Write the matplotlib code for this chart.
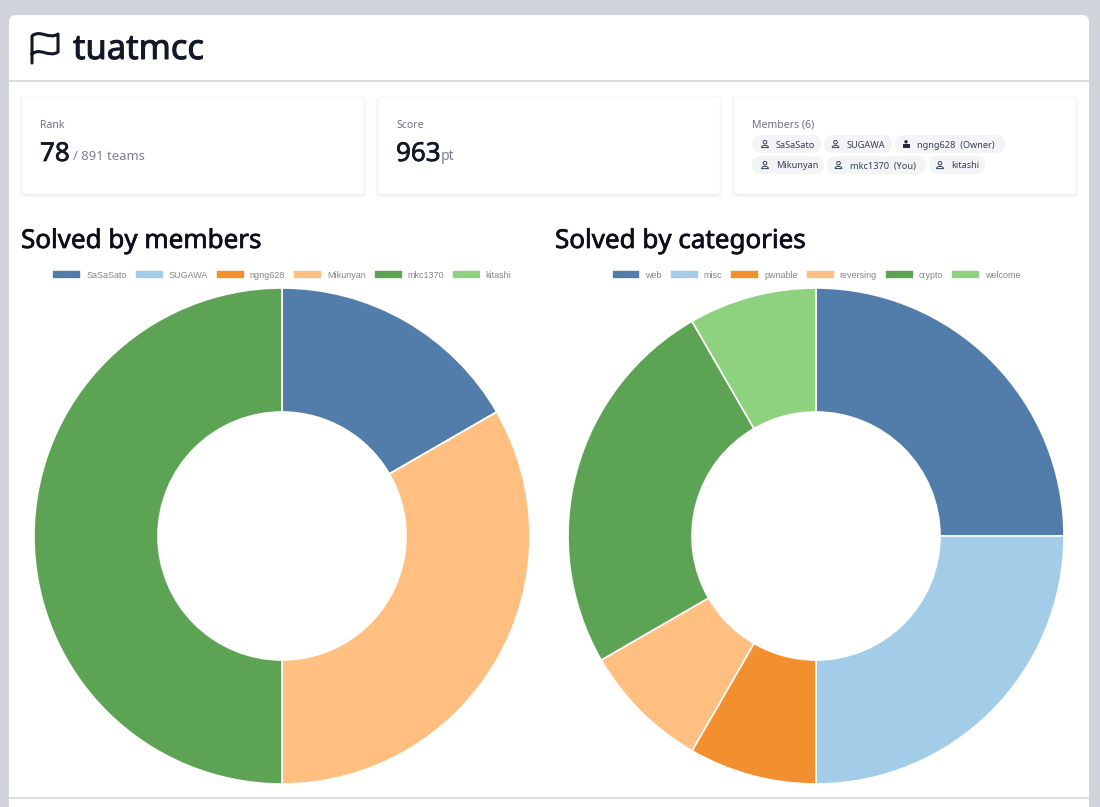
import matplotlib
matplotlib.use('Agg')
from matplotlib import pyplot as plt
from matplotlib import patheffects as pe
from matplotlib.patches import Circle, FancyBboxPatch, PathPatch, Rectangle
from matplotlib.path import Path

plt.rcParams['font.family'] = ['Noto Sans', 'DejaVu Sans']

team_name = 'tuatmcc'
rank = '78'
rank_total = '/ 891 teams'
score = '963'
score_unit = 'pt'

member_names = ['SaSaSato', 'SUGAWA', 'ngng628', 'Mikunyan', 'mkc1370', 'kitashi']
member_solves = [1, 0, 0, 2, 3, 0]
chip_labels = ['SaSaSato', 'SUGAWA', 'ngng628  (Owner)', 'Mikunyan', 'mkc1370  (You)', 'kitashi']

category_names = ['web', 'misc', 'pwnable', 'reversing', 'crypto', 'welcome']
category_solves = [3, 3, 1, 1, 3, 1]

colors = ['#4e79a7', '#a0cbe8', '#f28e2b', '#ffbe7d', '#59a14f', '#8cd17d']

W, H = 1100, 807
PX = 0.72  # css px to pt at dpi 100


def heavy(color, lw=0.5):
    # no medium weight of the font, so thicken the regular one a little
    return [pe.withStroke(linewidth=lw, foreground=color)]


def card(ax, x0, y0, x1, y1):
    for grow, alpha in [(3, 0.006), (2, 0.012), (1, 0.02), (0, 0.03)]:
        ax.add_patch(FancyBboxPatch((x0 - grow, y0 - grow + 1.5), x1 - x0 + 2 * grow, y1 - y0 + 2 * grow,
                                    boxstyle='round,pad=0,rounding_size=4', fc='black', ec='none', alpha=alpha))
    ax.add_patch(FancyBboxPatch((x0, y0), x1 - x0, y1 - y0, boxstyle='round,pad=0,rounding_size=3',
                                fc='white', ec='#f3f4f6', lw=0.5))


def person_icon(ax, x, y):
    ax.add_patch(Circle((x, y - 1.8), 1.8, fc='none', ec='#374151', lw=0.7))
    verts = [(x - 3.4, y + 3.6), (x - 3.4, y + 0.6), (x + 3.4, y + 0.6), (x + 3.4, y + 3.6), (x - 3.4, y + 3.6)]
    codes = [Path.MOVETO, Path.CURVE4, Path.CURVE4, Path.CURVE4, Path.LINETO]
    ax.add_patch(PathPatch(Path(verts, codes), fc='none', ec='#374151', lw=0.7))


def owner_icon(ax, x, y):
    ax.add_patch(Rectangle((x - 3.5, y - 0.5), 7, 4, fc='#1f2937', ec='none'))
    ax.add_patch(Circle((x, y - 2.2), 1.7, fc='#1f2937', ec='none'))


def chip(ax, x0, x1, y, text, text_x, icon_x, owner=False):
    ax.add_patch(FancyBboxPatch((x0, y - 9), x1 - x0, 18, boxstyle='round,pad=0,rounding_size=9',
                                fc='#f3f4f6', ec='none'))
    if owner:
        owner_icon(ax, icon_x, y)
    else:
        person_icon(ax, icon_x, y)
    ax.text(text_x, y + 1, text, fontsize=9.2 * PX, color='#374151', va='center', ha='left')


def donut(fig, cx, cy, values, names):
    r = 248
    ax = fig.add_axes([(cx - r) / W, (H - cy - r) / H, 2 * r / W, 2 * r / H], zorder=2)
    wedges, _ = ax.pie(values, colors=colors, startangle=90, counterclock=False, radius=1,
                       wedgeprops={'width': 0.5, 'edgecolor': 'white', 'linewidth': 1.2, 'alpha': 0.98})
    ax.set_xlim(-1, 1)
    ax.set_ylim(-1, 1)
    ax.legend(wedges, names, loc='center', ncol=6, frameon=False, bbox_to_anchor=(0, (cy - 275) / r),
              bbox_transform=ax.transData, prop={'family': 'Liberation Sans', 'size': 9 * PX},
              labelcolor='#858585', handlelength=3.2, handleheight=1.0, handletextpad=0.55, columnspacing=0.9,
              borderpad=0, borderaxespad=0)
    return ax


fig = plt.figure(figsize=(W / 100, H / 100), dpi=100, facecolor='#d1d5db')
bg = fig.add_axes([0, 0, 1, 1], zorder=0)
bg.set_xlim(0, W)
bg.set_ylim(H, 0)
bg.axis('off')

# page panel
bg.add_patch(FancyBboxPatch((9, 15), 1080, 830, boxstyle='round,pad=0,rounding_size=7', fc='white', ec='none'))
bg.plot([9, 1089], [81, 81], color='#d1d5db', lw=1.2)
bg.plot([9, 1089], [797.5, 797.5], color='#d1d5db', lw=1.2)

# flag icon
flag = Path([(32, 63), (32, 36), (40, 29), (49, 40), (58, 34), (58, 52), (49, 58), (40, 47), (32, 54)],
            [Path.MOVETO, Path.LINETO, Path.CURVE4, Path.CURVE4, Path.CURVE4,
             Path.LINETO, Path.CURVE4, Path.CURVE4, Path.CURVE4])
bg.add_patch(PathPatch(flag, fc='none', ec='#111827', lw=2.2, capstyle='round', joinstyle='round'))
bg.text(73, 59, team_name, fontsize=34.5 * PX, color='#111827', va='baseline', ha='left',
        path_effects=heavy('#111827', 0.7))

# stat cards
for x0 in [22, 378, 734]:
    card(bg, x0, 97, x0 + 342, 194)

bg.text(40, 125.5, 'Rank', fontsize=10.5 * PX, color='#6b7280', va='center')
bg.text(40, 161, rank, fontsize=26 * PX, color='#111827', va='baseline', path_effects=heavy('#111827', 0.5))
bg.text(73, 160, rank_total, fontsize=13 * PX, color='#7b818c', va='baseline')
bg.text(396, 125.5, 'Score', fontsize=10.5 * PX, color='#6b7280', va='center')
bg.text(396, 161, score, fontsize=26 * PX, color='#111827', va='baseline', path_effects=heavy('#111827', 0.5))
bg.text(441, 160, score_unit, fontsize=14 * PX, color='#7b818c', va='baseline')
bg.text(752, 125, 'Members (%d)' % len(member_names), fontsize=10.5 * PX, color='#6b7280', va='center')

# member chips: x0, x1, y, text x, icon x
chip_layout = [(752, 821, 144, 776, 765), (824, 892, 144, 846.5, 835.5), (895, 1005, 144, 916.7, 906),
               (752, 824, 165, 776, 765), (827, 926, 165, 849.5, 838.5), (929, 985, 165, 951, 940)]
for label, (x0, x1, y, tx, ix) in zip(chip_labels, chip_layout):
    chip(bg, x0, x1, y, label, tx, ix, owner='Owner' in label)

bg.text(21, 248, 'Solved by members', fontsize=26 * PX, color='#0b0f19', va='baseline',
        path_effects=heavy('#0b0f19', 0.5))
bg.text(555, 248, 'Solved by categories', fontsize=26 * PX, color='#0b0f19', va='baseline',
        path_effects=heavy('#0b0f19', 0.5))

donut(fig, 282, 536, member_solves, member_names)
donut(fig, 816, 536, category_solves, category_names)

fig.savefig('out.png', dpi=100, facecolor=fig.get_facecolor())
